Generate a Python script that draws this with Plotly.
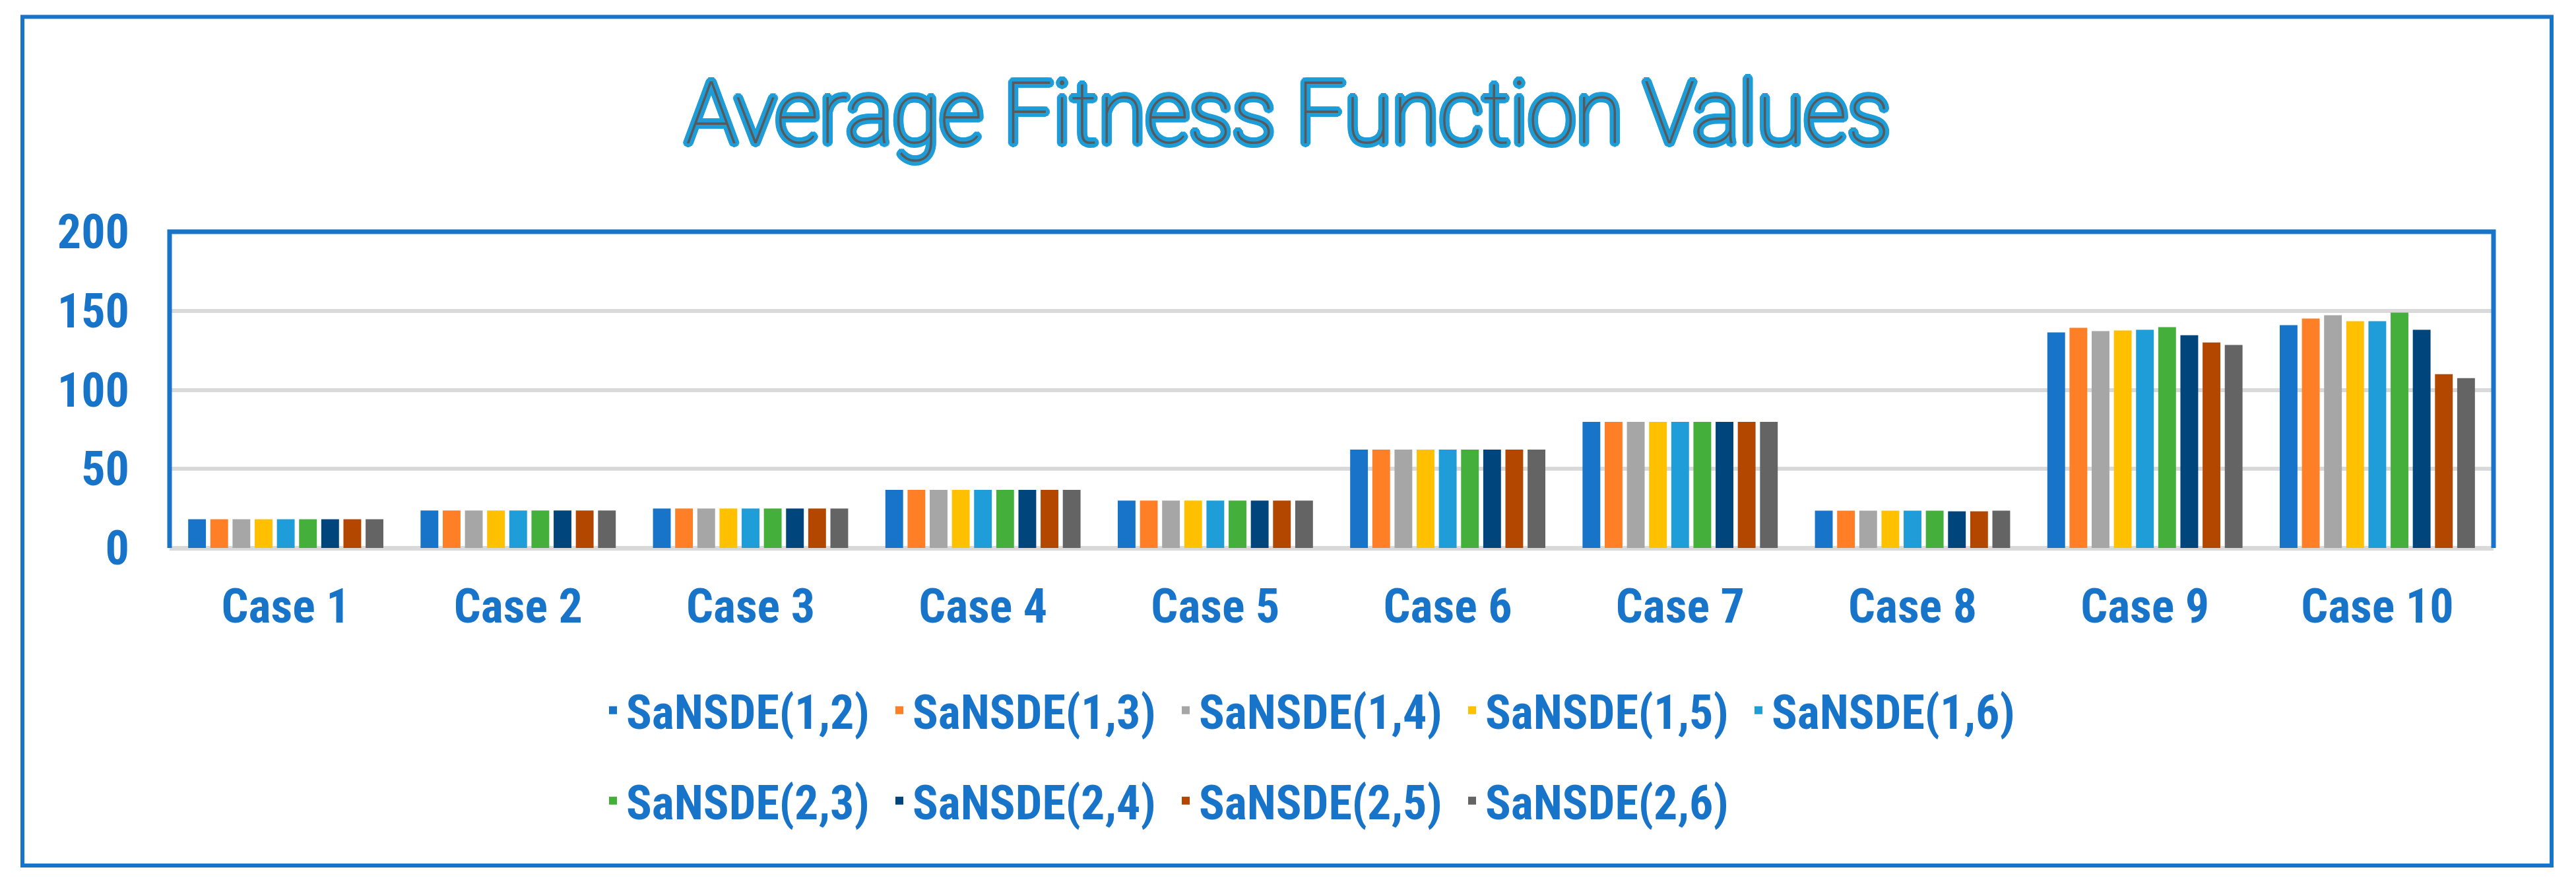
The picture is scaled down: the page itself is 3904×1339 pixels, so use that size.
import math
import plotly.graph_objects as go

cases = ["Case 1", "Case 2", "Case 3", "Case 4", "Case 5",
         "Case 6", "Case 7", "Case 8", "Case 9", "Case 10"]

series_names = ["SaNSDE(1,2)", "SaNSDE(1,3)", "SaNSDE(1,4)", "SaNSDE(1,5)", "SaNSDE(1,6)",
                "SaNSDE(2,3)", "SaNSDE(2,4)", "SaNSDE(2,5)", "SaNSDE(2,6)"]

sansde_1_2 = [18.2, 23.7, 24.9, 36.7, 30.0, 62.2, 79.7, 23.6, 136.3, 140.9]
sansde_1_3 = [18.2, 23.7, 24.9, 36.7, 30.0, 62.2, 79.7, 23.6, 139.2, 145.1]
sansde_1_4 = [18.2, 23.7, 24.9, 36.7, 30.0, 62.2, 79.7, 23.6, 137.2, 147.2]
sansde_1_5 = [18.2, 23.7, 24.9, 36.7, 30.0, 62.2, 79.7, 23.6, 137.6, 143.4]
sansde_1_6 = [18.2, 23.7, 24.9, 36.7, 30.0, 62.2, 79.7, 23.6, 138.0, 143.4]
sansde_2_3 = [18.2, 23.7, 24.9, 36.7, 30.0, 62.2, 79.7, 23.6, 139.7, 148.9]
sansde_2_4 = [18.2, 23.7, 24.9, 36.7, 30.0, 62.2, 79.7, 23.2, 134.6, 138.0]
sansde_2_5 = [18.2, 23.7, 24.9, 36.7, 30.0, 62.2, 79.7, 23.2, 130.0, 109.9]
sansde_2_6 = [18.2, 23.7, 24.9, 36.7, 30.0, 62.2, 79.7, 23.6, 128.4, 107.4]

series_values = [sansde_1_2, sansde_1_3, sansde_1_4, sansde_1_5, sansde_1_6,
                 sansde_2_3, sansde_2_4, sansde_2_5, sansde_2_6]

y_ticks = [0, 50, 100, 150, 200]

colors = ["#1874C9", "#FF7F27", "#A6A6A6", "#FFC000", "#1E9DD8",
          "#44AF3B", "#00457C", "#B34700", "#646464"]

TEXT_BLUE = "#1874C9"
GRID = "#D9D9D9"
FONT = "Roboto Condensed, Open Sans Condensed, Liberation Sans Narrow, sans-serif"

fig = go.Figure()
for i, (name, vals) in enumerate(zip(series_names, series_values)):
    fig.add_trace(go.Bar(
        name=name, x=cases, y=vals,
        marker=dict(color=colors[i], line=dict(width=0)),
        legend="legend" if i < 5 else "legend2",
    ))

# blue outline around the thin grey title glyphs
shadows = []
for r in (2, 4, 6):
    for k in range(16):
        a = 2 * math.pi * k / 16
        shadows.append(f"{r*math.cos(a):.1f}px {r*math.sin(a):.1f}px 0px #1E9DD8")
title_shadow = ", ".join(shadows)

W, H = 3904, 1339
L, R, T, B = 257, 125, 351, 509
pw, ph = W - L - R, H - T - B

def px(xp):
    return (xp - L) / pw

def py(yp):
    return (H - B - yp) / ph

text_font = dict(family=FONT, size=72, color=TEXT_BLUE, weight="bold")

fig.update_layout(
    width=W, height=H,
    margin=dict(l=L, r=R, t=T, b=B, autoexpand=False),
    paper_bgcolor="white", plot_bgcolor="white",
    barmode="group", bargap=0.141, bargroupgap=0.2,
    title=dict(
        text="Average Fitness Function Values",
        x=0.5, xanchor="center", xref="container",
        y=1 - 171 / H, yanchor="middle", yref="container",
        font=dict(family="Roboto, DejaVu Sans, sans-serif", size=131,
                  color="#595959", weight=100, shadow=title_shadow),
    ),
    xaxis=dict(
        type="category", showgrid=False, ticks="", showline=False,
        tickfont=text_font, ticklabelstandoff=40,
    ),
    yaxis=dict(
        range=[0, 200], tickvals=y_ticks, ticktext=[str(v) for v in y_ticks],
        showgrid=True, gridcolor=GRID, gridwidth=6,
        zeroline=True, zerolinecolor=GRID, zerolinewidth=7,
        ticks="", showline=False, tickfont=text_font, ticklabelstandoff=60,
    ),
    legend=dict(
        orientation="h", x=px(909), xanchor="left", y=py(1076), yanchor="middle",
        font=text_font, entrywidth=389, entrywidthmode="pixels",
        bgcolor="rgba(0,0,0,0)", traceorder="normal",
    ),
    legend2=dict(
        orientation="h", x=px(909), xanchor="left", y=py(1213), yanchor="middle",
        font=text_font, entrywidth=389, entrywidthmode="pixels",
        bgcolor="rgba(0,0,0,0)", traceorder="normal",
    ),
    shapes=[
        dict(type="path", xref="paper", yref="paper",
             path="M0,0 L0,1 L1,1 L1,0",
             line=dict(color=TEXT_BLUE, width=7), layer="above"),
        dict(type="rect", xref="paper", yref="paper",
             x0=px(34), x1=px(3867), y0=py(1311), y1=py(25.6),
             line=dict(color=TEXT_BLUE, width=6), layer="above"),
    ],
)

fig.write_html("out.html", config={"displayModeBar": False},
               post_script="document.body.style.margin='0px';")
